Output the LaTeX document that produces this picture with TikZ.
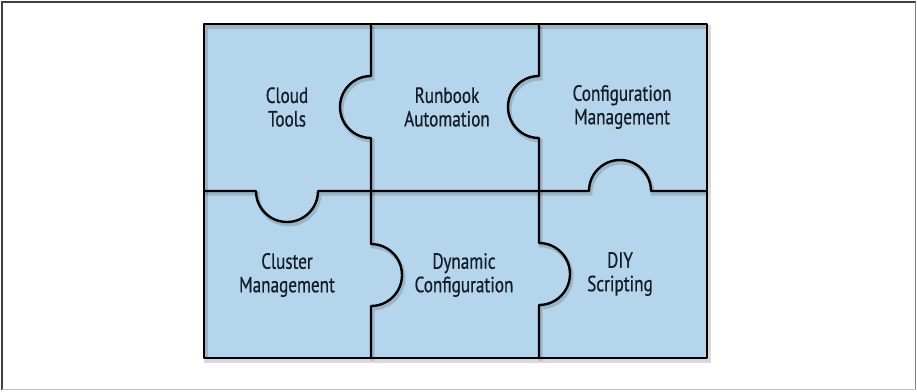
\documentclass[tikz,border=0pt]{standalone}
\usepackage{fontspec}
\setmainfont[FakeStretch=0.78,FakeBold=0.6]{PT Sans}
\definecolor{piece}{RGB}{181,213,236}
\definecolor{ink}{RGB}{20,28,40}
\tikzset{
	cut/.style={line width=2.4pt, line join=round, line cap=round},
	cutshade/.style={line width=4pt, black, opacity=0.15, shift={(1.5,2.5)}},
	piecetext/.style={align=center, text=ink, font=\fontsize{22}{23.5}\selectfont},
}
\begin{document}
\begin{tikzpicture}[x=1pt,y=-1pt]
	\useasboundingbox (0,0) rectangle (917,391);
	% frame
	\draw[line width=1.5pt, black!75] (2,390) -- (2,2) -- (916,2);
	\draw[line width=1.5pt, black!50] (915.5,2) -- (915.5,390);
	\draw[line width=1.5pt, black!25] (2,389.5) -- (915.5,389.5);
	\fill[piece] (204,24) rectangle (707,358);
	% the cuts between the pieces
	\foreach \s in {cutshade,cut}{
		\draw[\s] (204,24) rectangle (707,358);
		\draw[\s] (371,24) -- (371,76) arc[start angle=-90, end angle=-270, radius=31]
			-- (371,244) arc[start angle=-90, end angle=90, radius=31] -- (371,358);
		\draw[\s] (539,24) -- (539,76) arc[start angle=-90, end angle=-270, radius=31]
			-- (539,243) arc[start angle=-90, end angle=90, radius=31] -- (539,358);
		\draw[\s] (204,191) -- (256,191) arc[start angle=180, end angle=0, radius=31]
			-- (589,191) arc[start angle=180, end angle=360, radius=31] -- (707,191);
	}
	\node[piecetext] at (287,107) (cloud) {Cloud\\Tools};
	\node[piecetext] at (447,107) (runbook) {Runbook\\Automation};
	\node[piecetext] at (622,107) (config) {Configuration\\Management};
	\node[piecetext] at (287,275) (cluster) {Cluster\\Management};
	\node[piecetext] at (464,275) (dynamic) {Dynamic\\Configuration};
	\node[piecetext] at (620,274) (diy) {DIY\\Scripting};
\end{tikzpicture}
\end{document}
